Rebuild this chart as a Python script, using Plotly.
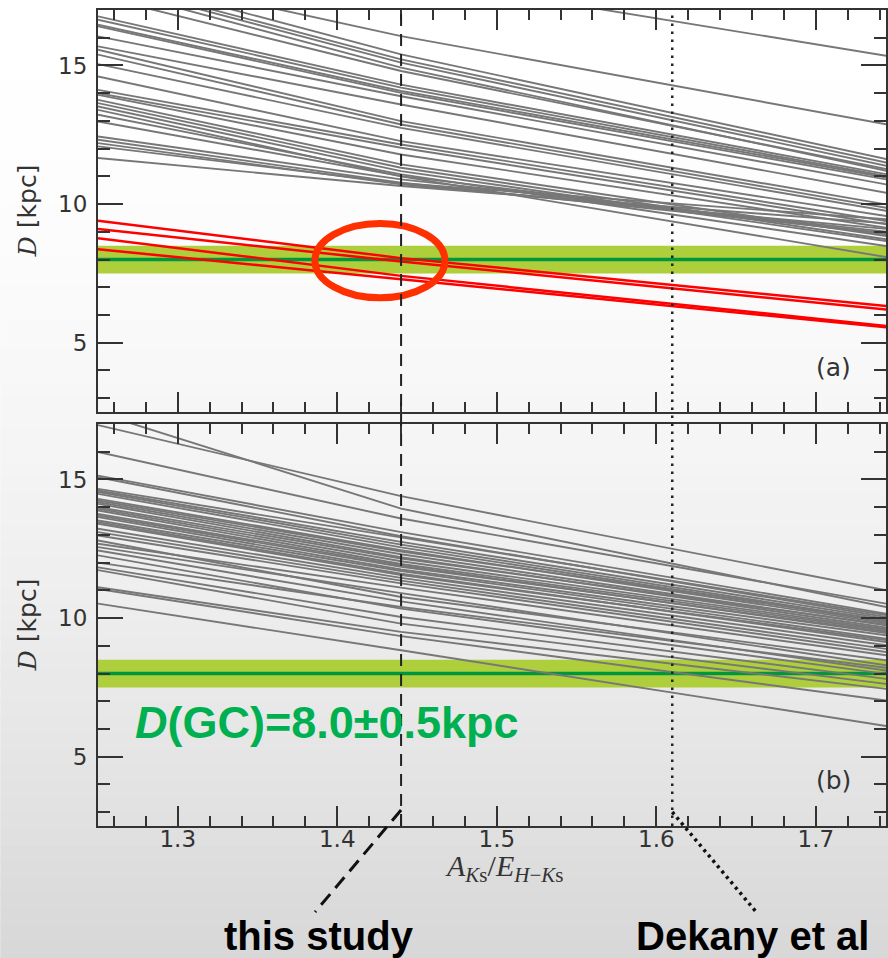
import plotly.graph_objects as go

# ---------------- data ----------------
# x positions at which each distance curve was read
X_READ = [1.25, 1.44, 1.745]

# panel (a): grey curves, D [kpc] at X_READ
A_GRAY_L = [20.3, 18.44, 18.3, 18.1, 18.0, 17.85, 17.5, 16.77, 16.65, 16.47, 16.41, 16.05,
            15.69, 15.57, 15.39, 15.05, 14.6, 14.12, 14.0, 13.94, 13.76, 13.64, 13.52, 13.22,
            13.4, 12.98, 12.44, 12.32, 12.2, 12.08, 11.66]
A_GRAY_M = [18.2, 16.06, 15.4, 15.22, 15.1, 14.92, 14.8, 14.31, 14.2, 14.08, 14.01, 13.89,
            13.59, 12.99, 12.87, 12.75, 12.27, 12.15, 12.03, 11.79, 11.43, 11.31, 11.19, 11.07,
            11.0, 11.01, 10.89, 10.77, 10.71, 10.75, 10.65]
A_GRAY_R = [15.34, 12.87, 11.61, 11.49, 11.37, 11.19, 11.25, 11.07, 11.0, 10.95, 10.88, 10.7,
            10.4, 9.98, 9.86, 9.75, 9.56, 9.38, 9.26, 9.14, 8.84, 8.72, 8.66, 8.48,
            8.08, 8.9, 9.0, 8.95, 9.1, 9.45, 9.3]

# panel (a): red curves
A_RED_L = [9.40, 9.10, 8.77, 8.37]
A_RED_M = [8.05, 7.93, 7.41, 7.29]
A_RED_R = [6.32, 6.19, 5.60, 5.55]

# panel (b): grey curves
B_GRAY_L = [17.4, 16.96, 15.99, 15.14, 15.08, 14.66, 14.60, 14.55, 14.48, 14.30, 14.24, 14.18,
            14.12, 14.00, 13.94, 13.88, 13.76, 13.70, 13.64, 13.52, 13.46, 13.40, 13.22, 13.10,
            12.98, 12.80, 12.68, 12.56, 12.44, 12.26, 12.00, 11.83, 11.73, 11.11, 11.05, 10.52]
B_GRAY_M = [13.95, 14.40, 13.59, 13.10, 12.95, 12.90, 12.75, 12.65, 12.55, 12.45, 12.40, 12.30,
            12.20, 12.15, 12.05, 11.95, 11.90, 11.85, 11.75, 11.70, 11.60, 11.55, 11.45, 11.35,
            11.25, 10.76, 11.10, 10.90, 10.60, 10.34, 10.40, 10.04, 9.80, 9.50, 9.35, 8.84]
B_GRAY_R = [10.39, 10.99, 10.51, 10.15, 10.03, 10.10, 9.97, 9.90, 9.85, 9.80, 9.92, 9.73,
            9.65, 9.75, 9.60, 9.55, 9.45, 9.50, 9.37, 9.25, 9.13, 9.20, 9.01, 8.88,
            8.77, 8.47, 8.65, 8.29, 8.10, 7.98, 8.20, 7.80, 7.62, 7.44, 7.02, 6.10]

D_GC = 8.0          # kpc
D_GC_ERR = 0.5      # kpc
THIS_STUDY = 1.44
DEKANY = 1.61

X_RANGE = [1.25, 1.744]
Y_RANGE = [2.5, 17.0]
X_DTICK, X_MINOR = 0.1, 0.02
Y_DTICK, Y_MINOR = 5, 1

# ---------------- layout geometry ----------------
W, H = 888, 958
ML, MR, MT, MB = 98, 0, 10, 132
PW, PH = W - ML - MR, H - MT - MB
GAP = 12
PANEL = (PH - GAP) / 2


def yp(y_px):
    """figure pixel row -> paper fraction"""
    return (H - MB - y_px) / PH


def xpp(x_px):
    return (x_px - ML) / PW


def curves(L, M, R):
    xs, ys = [], []
    for l, m, r in zip(L, M, R):
        xs += X_READ + [None]
        ys += [l, m, r, None]
    return xs, ys


fig = go.Figure()

GRAY = "#777777"
ax, ay = curves(A_GRAY_L, A_GRAY_M, A_GRAY_R)
fig.add_trace(go.Scatter(x=ax, y=ay, mode="lines", xaxis="x2", yaxis="y2",
                         line=dict(color=GRAY, width=1.9), hoverinfo="skip",
                         showlegend=False))
rx, ry = curves(A_RED_L, A_RED_M, A_RED_R)
fig.add_trace(go.Scatter(x=rx, y=ry, mode="lines", xaxis="x2", yaxis="y2",
                         line=dict(color="#ff0000", width=2.5), hoverinfo="skip",
                         showlegend=False))
bx, by = curves(B_GRAY_L, B_GRAY_M, B_GRAY_R)
fig.add_trace(go.Scatter(x=bx, y=by, mode="lines", xaxis="x", yaxis="y",
                         line=dict(color=GRAY, width=1.9), hoverinfo="skip",
                         showlegend=False))

shapes = []
# background gradient (paper)
N = 60
for i in range(N):
    y0 = i * H / N
    y1 = (i + 1) * H / N
    t = (y0 + y1) / 2 / H
    v = round(255 - 40 * t ** 1.8)
    shapes.append(dict(type="rect", xref="paper", yref="paper",
                       x0=xpp(0), x1=xpp(W) + 0.01, y0=yp(y1) - 0.001, y1=yp(y0) + 0.001,
                       fillcolor=f"rgb({v},{v},{v})", line=dict(width=0), layer="below"))

# D(GC) band and line in both panels
for xr, yr in (("x2", "y2"), ("x", "y")):
    shapes.append(dict(type="rect", xref=xr, yref=yr, x0=X_RANGE[0], x1=X_RANGE[1],
                       y0=D_GC - D_GC_ERR, y1=D_GC + D_GC_ERR,
                       fillcolor="#aecf3b", line=dict(width=0), layer="below"))
    shapes.append(dict(type="line", xref=xr, yref=yr, x0=X_RANGE[0], x1=X_RANGE[1],
                       y0=D_GC, y1=D_GC, line=dict(color="#00963c", width=3.5),
                       layer="below"))

# highlight ellipse in panel (a)
shapes.append(dict(type="circle", xref="x2", yref="y2", x0=1.386, x1=1.4675,
                   y0=6.62, y1=9.30, line=dict(color="#ff3000", width=7),
                   fillcolor="rgba(0,0,0,0)", layer="above"))

# vertical reference lines spanning both panels
shapes.append(dict(type="line", xref="x", yref="paper", x0=THIS_STUDY, x1=THIS_STUDY,
                   y0=0, y1=1, line=dict(color="#222222", width=2, dash="12px,8px")))
shapes.append(dict(type="line", xref="x", yref="paper", x0=DEKANY, x1=DEKANY,
                   y0=0, y1=1, line=dict(color="#222222", width=2.5, dash="2.5px,5.5px")))

# leader lines to the labels below
shapes.append(dict(type="line", xref="x", xsizemode="pixel", xanchor=THIS_STUDY,
                   x0=0, x1=-86, yref="paper", y0=yp(810), y1=yp(912),
                   line=dict(color="#111111", width=3, dash="14px,8px")))
shapes.append(dict(type="line", xref="x", xsizemode="pixel", xanchor=DEKANY,
                   x0=0, x1=84, yref="paper", y0=yp(812), y1=yp(912),
                   line=dict(color="#111111", width=3.5, dash="3px,4px")))

annotations = [
    dict(text="(a)", xref="x2", yref="y2", x=1.711, y=4.12, showarrow=False,
         font=dict(family="DejaVu Sans", size=25, color="#333")),
    dict(text="(b)", xref="x", yref="y", x=1.711, y=4.14, showarrow=False,
         font=dict(family="DejaVu Sans", size=25, color="#333")),
    dict(text="<i>D</i>(GC)=8.0±0.5kpc", xref="x", yref="y", x=1.272, y=6.25,
         xanchor="left", yanchor="middle", showarrow=False,
         font=dict(family="Liberation Sans", size=45, color="#00b050", weight="bold")),
    dict(text="<span style='font-family:DejaVu Serif'><i>D</i></span> [kpc]",
         xref="paper", yref="y2 domain", x=xpp(27), y=0.5, textangle=-90,
         showarrow=False, xanchor="center", yanchor="middle",
         font=dict(family="DejaVu Sans", size=25, color="#333")),
    dict(text="<span style='font-family:DejaVu Serif'><i>D</i></span> [kpc]",
         xref="paper", yref="y domain", x=xpp(27), y=0.5, textangle=-90,
         showarrow=False, xanchor="center", yanchor="middle",
         font=dict(family="DejaVu Sans", size=25, color="#333")),
    dict(text="<i>A</i><sub><i>K</i>s</sub>/<i>E</i><sub><i>H</i>−<i>K</i>s</sub>",
         xref="paper", yref="paper", x=xpp(505), y=yp(868), showarrow=False,
         xanchor="center", yanchor="middle",
         font=dict(family="Liberation Serif", size=30, color="#333")),
    dict(text="this study", xref="paper", yref="paper", x=xpp(320), y=yp(936),
         showarrow=False, xanchor="center", yanchor="middle",
         font=dict(family="Liberation Sans", size=40, color="#000", weight="bold")),
    dict(text="Dekany et al", xref="paper", yref="paper", x=xpp(635), y=yp(936),
         showarrow=False, xanchor="left", yanchor="middle",
         font=dict(family="Liberation Sans", size=40, color="#000", weight="bold")),
]

axis_common = dict(showline=True, linecolor="#333333", linewidth=2, mirror="allticks",
                   ticks="inside", tickwidth=2, tickcolor="#333333", showgrid=False,
                   zeroline=False,
                   tickfont=dict(family="DejaVu Sans", size=23, color="#333333"))

fig.update_layout(
    width=W, height=H,
    margin=dict(l=ML, r=MR, t=MT, b=MB, pad=0),
    paper_bgcolor="white", plot_bgcolor="rgba(0,0,0,0)",
    showlegend=False,
    xaxis=dict(domain=[0, 1], anchor="y", range=X_RANGE, dtick=X_DTICK, tick0=0,
               ticklen=20, ticklabelstandoff=-9,
               minor=dict(ticks="inside", ticklen=10, dtick=X_MINOR, tick0=0,
                          tickwidth=1.5, tickcolor="#333333", showgrid=False),
               **axis_common),
    xaxis2=dict(domain=[0, 1], anchor="y2", range=X_RANGE, dtick=X_DTICK, tick0=0,
                matches="x", showticklabels=False,
                ticklen=20, minor=dict(ticks="inside", ticklen=10, dtick=X_MINOR, tick0=0,
                                       tickwidth=1.5, tickcolor="#333333", showgrid=False),
                **axis_common),
    yaxis=dict(domain=[0, PANEL / PH], anchor="x", range=Y_RANGE, dtick=Y_DTICK, tick0=0,
               ticklen=25, ticklabelstandoff=4,
               minor=dict(ticks="inside", ticklen=12, dtick=Y_MINOR, tick0=0,
                          tickwidth=1.5, tickcolor="#333333", showgrid=False),
               **axis_common),
    yaxis2=dict(domain=[(PANEL + GAP) / PH, 1], anchor="x2", range=Y_RANGE, dtick=Y_DTICK,
                tick0=0, ticklen=25, ticklabelstandoff=4,
                minor=dict(ticks="inside", ticklen=12, dtick=Y_MINOR, tick0=0,
                           tickwidth=1.5, tickcolor="#333333", showgrid=False),
                **axis_common),
    shapes=shapes,
    annotations=annotations,
)

fig.write_html("out.html",
               config={"displayModeBar": False},
               post_script="document.body.style.margin='0';"
                           "document.body.style.overflow='hidden';")
